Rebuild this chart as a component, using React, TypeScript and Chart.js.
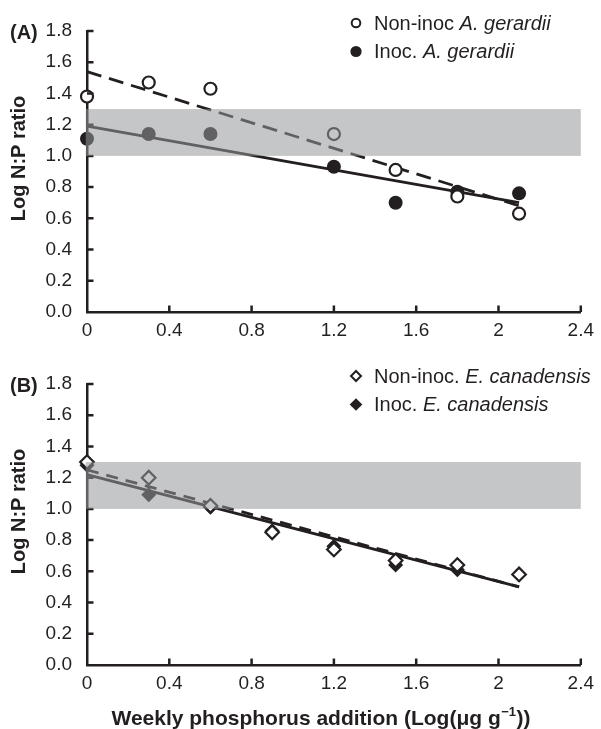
import React, { useEffect, useRef } from 'react';
import { Chart, registerables } from 'chart.js';

Chart.register(...registerables);

const FONT = "'Liberation Sans', Arial, Helvetica, sans-serif";
const INK = '#231f20';

// ---- Panel A: Andropogon gerardii ----
const doseA = [0, 0.3, 0.6, 1.2, 1.5, 1.8, 2.1];
const nonInocA = [1.38, 1.47, 1.43, 1.14, 0.91, 0.74, 0.63];
const inocA = [1.11, 1.14, 1.14, 0.93, 0.7, 0.77, 0.76];
const fitDose = [0, 2.1];
const nonInocAFit = [1.54, 0.68];
const inocAFit = [1.19, 0.7];

// ---- Panel B: Elymus canadensis ----
const doseB = [0, 0.3, 0.6, 0.9, 1.2, 1.5, 1.8, 2.1];
const nonInocB = [1.3, 1.2, 1.02, 0.85, 0.74, 0.67, 0.64, 0.58];
const inocB = [1.28, 1.09, 1.01, 0.86, 0.76, 0.64, 0.61, 0.58];
const nonInocBFit = [1.25, 0.5];
const inocBFit = [1.22, 0.5];

// ---- axes / reference band ----
const xTickLabels = ['0', '0.4', '0.8', '1.2', '1.6', '2', '2.4'];
const yTickLabels = ['0.0', '0.2', '0.4', '0.6', '0.8', '1.0', '1.2', '1.4', '1.6', '1.8'];
const bandLogNP = [1.0, 1.3];
const bandDose = [0, 2.4];

const legendA = [
  ['Non-inoc ', 'A. gerardii'],
  ['Inoc. ', 'A. gerardii'],
];
const legendB = [
  ['Non-inoc. ', 'E. canadensis'],
  ['Inoc. ', 'E. canadensis'],
];

const yTitle = 'Log N:P ratio';
const xTitleMain = 'Weekly phosphorus addition (Log(\u03bcg g';
const xTitleSup = '\u22121';
const xTitleEnd = '))';

type Marker = 'openCircle' | 'filledCircle' | 'openDiamond' | 'filledDiamond';

function pts(xs: number[], ys: number[]) {
  return xs.map((x, i) => ({ x, y: ys[i] }));
}

function drawMarker(ctx: CanvasRenderingContext2D, kind: Marker, cx: number, cy: number) {
  ctx.save();
  ctx.strokeStyle = INK;
  ctx.fillStyle = INK;
  ctx.lineWidth = 2;
  ctx.beginPath();
  if (kind === 'openCircle') {
    ctx.arc(cx, cy, 4.3, 0, Math.PI * 2);
    ctx.stroke();
  } else if (kind === 'filledCircle') {
    ctx.arc(cx, cy, 5.6, 0, Math.PI * 2);
    ctx.fill();
  } else {
    const r = kind === 'openDiamond' ? 5 : 6.3;
    ctx.moveTo(cx, cy - r);
    ctx.lineTo(cx + r, cy);
    ctx.lineTo(cx, cy + r);
    ctx.lineTo(cx - r, cy);
    ctx.closePath();
    if (kind === 'openDiamond') ctx.stroke();
    else ctx.fill();
  }
  ctx.restore();
}

interface PanelCfg {
  label: string;
  legend: string[][];
  markers: Marker[];
  showXTitle: boolean;
  xTitleY: number;
}

function panelPlugin(cfg: PanelCfg) {
  return {
    id: 'panelDecor',
    afterDraw(chart: any) {
      const { ctx, chartArea } = chart;
      const x = chart.scales.x;
      const y = chart.scales.y;
      ctx.save();
      // inward tick marks
      ctx.strokeStyle = INK;
      ctx.lineWidth = 2.5;
      ctx.lineCap = 'butt';
      ctx.beginPath();
      y.ticks.forEach((t: any) => {
        if (t.value === 0) return;
        const py = y.getPixelForValue(t.value);
        ctx.moveTo(chartArea.left, py);
        ctx.lineTo(chartArea.left + 6.5, py);
      });
      x.ticks.forEach((t: any) => {
        if (t.value === 0) return;
        const px = x.getPixelForValue(t.value);
        ctx.moveTo(px, chartArea.bottom);
        ctx.lineTo(px, chartArea.bottom - 6.5);
      });
      ctx.stroke();

      // translucent reference band drawn on top of everything
      const bx0 = x.getPixelForValue(bandDose[0]) - 1.25;
      const bx1 = x.getPixelForValue(bandDose[1]);
      const byTop = y.getPixelForValue(bandLogNP[1]);
      const byBot = y.getPixelForValue(bandLogNP[0]);
      ctx.fillStyle = 'rgba(150,151,154,0.55)';
      ctx.fillRect(bx0, byTop, bx1 - bx0, byBot - byTop);

      // panel label
      ctx.fillStyle = INK;
      ctx.font = `bold 20px ${FONT}`;
      ctx.textAlign = 'left';
      ctx.textBaseline = 'middle';
      ctx.fillText(cfg.label, 10, chartArea.top + 2);

      // y title
      ctx.save();
      ctx.translate(19.5, (chartArea.top + chartArea.bottom) / 2 - 13);
      ctx.rotate(-Math.PI / 2);
      ctx.textAlign = 'center';
      ctx.textBaseline = 'middle';
      ctx.font = `bold 20px ${FONT}`;
      ctx.fillText(yTitle, 0, 0);
      ctx.restore();

      // legend
      cfg.legend.forEach((parts, i) => {
        const ly = chartArea.top - 8 + i * 28.5;
        drawMarker(ctx, cfg.markers[i], 356, ly);
        ctx.fillStyle = INK;
        ctx.textAlign = 'left';
        ctx.textBaseline = 'middle';
        ctx.font = `20px ${FONT}`;
        ctx.fillText(parts[0], 374, ly + 1);
        const w = ctx.measureText(parts[0]).width;
        ctx.font = `italic 20px ${FONT}`;
        ctx.fillText(parts[1], 374 + w, ly + 1);
      });

      // x title
      if (cfg.showXTitle) {
        ctx.textBaseline = 'middle';
        ctx.textAlign = 'left';
        ctx.font = `bold 21px ${FONT}`;
        const w1 = ctx.measureText(xTitleMain).width;
        const w3 = ctx.measureText(xTitleEnd).width;
        ctx.font = `bold 13px ${FONT}`;
        const w2 = ctx.measureText(xTitleSup).width;
        const total = w1 + w2 + w3 + 1;
        let sx = 321 - total / 2;
        const ty = cfg.xTitleY;
        ctx.font = `bold 21px ${FONT}`;
        ctx.fillText(xTitleMain, sx, ty);
        sx += w1 + 0.5;
        ctx.font = `bold 13px ${FONT}`;
        ctx.fillText(xTitleSup, sx, ty - 7);
        sx += w2 + 0.5;
        ctx.font = `bold 21px ${FONT}`;
        ctx.fillText(xTitleEnd, sx, ty);
      }
      ctx.restore();
    },
  };
}

function buildChart(
  canvas: HTMLCanvasElement,
  height: number,
  padTop: number,
  bottomPx: number,
  datasets: any[],
  cfg: PanelCfg
) {
  const xAxisHeight = height - bottomPx;
  return new Chart(canvas, {
    type: 'scatter',
    data: { datasets },
    options: {
      responsive: false,
      maintainAspectRatio: false,
      animation: false,
      events: [],
      layout: { padding: { top: padTop, left: 0, right: 16, bottom: 0 } },
      plugins: { legend: { display: false }, tooltip: { enabled: false } },
      scales: {
        x: {
          type: 'linear',
          min: 0,
          max: 2.4,
          grid: { display: false, drawTicks: false },
          border: { display: true, color: INK, width: 2.5 },
          afterBuildTicks: (s: any) => {
            s.ticks = xTickLabels.map((l) => ({ value: parseFloat(l) }));
          },
          afterFit: (s: any) => {
            s.height = xAxisHeight;
          },
          ticks: {
            autoSkip: false,
            maxRotation: 0,
            padding: 7,
            color: INK,
            font: { family: FONT, size: 19 },
            callback: (_v: any, i: number) => xTickLabels[i],
          },
        },
        y: {
          type: 'linear',
          min: 0,
          max: 1.8,
          grid: { display: false, drawTicks: false },
          border: { display: true, color: INK, width: 2.5 },
          afterBuildTicks: (s: any) => {
            s.ticks = yTickLabels.map((l) => ({ value: parseFloat(l) }));
          },
          afterFit: (s: any) => {
            s.width = 87;
          },
          ticks: {
            autoSkip: false,
            padding: 15,
            color: INK,
            font: { family: FONT, size: 19 },
            callback: (_v: any, i: number) => yTickLabels[i],
          },
        },
      },
    },
    plugins: [panelPlugin(cfg)],
  });
}

function openSet(data: any[], style: 'circle' | 'rectRot', r: number) {
  return {
    data,
    showLine: false,
    pointStyle: style,
    pointRadius: r,
    pointBorderWidth: 2.2,
    pointBorderColor: INK,
    pointBackgroundColor: '#ffffff',
    clip: false,
  };
}
function filledSet(data: any[], style: 'circle' | 'rectRot', r: number) {
  return {
    data,
    showLine: false,
    pointStyle: style,
    pointRadius: r,
    pointBorderWidth: 0,
    pointBorderColor: INK,
    pointBackgroundColor: INK,
    clip: false,
  };
}
function fitSet(data: any[], dash: number[]) {
  return {
    data,
    showLine: true,
    pointRadius: 0,
    borderColor: INK,
    borderWidth: 2.8,
    borderDash: dash,
    fill: false,
    clip: false,
  };
}

export default function App() {
  const refA = useRef<HTMLCanvasElement>(null);
  const refB = useRef<HTMLCanvasElement>(null);

  useEffect(() => {
    const chartA = buildChart(
      refA.current!,
      355,
      31,
      312,
      [
        openSet(pts(doseA, nonInocA), 'circle', 6),
        filledSet(pts(doseA, inocA), 'circle', 7),
        fitSet(pts(fitDose, nonInocAFit), [15, 8]),
        fitSet(pts(fitDose, inocAFit), []),
      ],
      {
        label: '(A)',
        legend: legendA,
        markers: ['openCircle', 'filledCircle'],
        showXTitle: false,
        xTitleY: 0,
      }
    );
    const chartB = buildChart(
      refB.current!,
      374,
      29,
      310,
      [
        openSet(pts(doseB, nonInocB), 'rectRot', 6.8),
        filledSet(pts(doseB, inocB), 'rectRot', 7.5),
        fitSet(pts(fitDose, nonInocBFit), [12, 8]),
        fitSet(pts(fitDose, inocBFit), []),
      ],
      {
        label: '(B)',
        legend: legendB,
        markers: ['openDiamond', 'filledDiamond'],
        showXTitle: true,
        xTitleY: 364,
      }
    );
    return () => {
      chartA.destroy();
      chartB.destroy();
    };
  }, []);

  return (
    <div style={{ position: 'absolute', left: 0, top: 0, width: 601, height: 729, background: '#fff' }}>
      <canvas
        ref={refA}
        width={601}
        height={355}
        style={{ position: 'absolute', left: 0, top: 0, width: 601, height: 355 }}
      />
      <canvas
        ref={refB}
        width={601}
        height={374}
        style={{ position: 'absolute', left: 0, top: 355, width: 601, height: 374 }}
      />
    </div>
  );
}
